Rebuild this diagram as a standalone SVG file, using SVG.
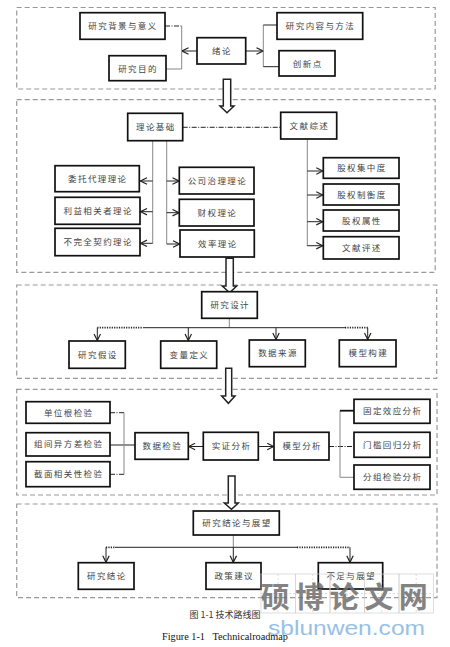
<svg xmlns="http://www.w3.org/2000/svg" width="450" height="647" viewBox="0 0 450 647">
<style>
.frame{fill:none;stroke:#9a9a9a;stroke-width:1.2;stroke-dasharray:5 3}
.box rect{fill:#fff;stroke:#111;stroke-width:1.7}
.box text{font-family:"Noto Sans CJK SC","Noto Sans",sans-serif;font-size:8.5px;fill:#444;letter-spacing:1.4px;text-anchor:middle}
.g{stroke:#888;stroke-width:1;fill:none}
.k{stroke:#222;stroke-width:1;fill:none}
.dd{stroke:#222;stroke-width:1;fill:none;stroke-dasharray:5 1.5 1 1.5}
.dot{stroke:#222;stroke-width:1.8;fill:none;stroke-dasharray:1.2 1.2}
.a{stroke:#222;stroke-width:1;fill:none;marker-end:url(#ah)}
.hollow{fill:#fff;stroke:#222;stroke-width:1.5}
.cap{font-family:"Noto Sans CJK SC",sans-serif;font-size:9px;fill:#333;text-anchor:middle}
</style>
<defs>
<marker id="ah" viewBox="0 0 8 8" refX="7.5" refY="4" markerWidth="8" markerHeight="8" orient="auto" markerUnits="userSpaceOnUse">
<path d="M1,0.8 L7.5,4 L1,7.2" fill="none" stroke="#222" stroke-width="1.2"/>
</marker>
</defs>
<rect width="450" height="647" fill="#fff"/>
<g id="frames">
<rect class="frame" x="16.7" y="7.5" width="418.5" height="81.5"/>
<rect class="frame" x="16.7" y="99.7" width="418.5" height="172.6"/>
<rect class="frame" x="16.7" y="285" width="420" height="93.3"/>
<rect class="frame" x="16.7" y="389.3" width="420.3" height="105.7"/>
<rect class="frame" x="16.7" y="504" width="420.3" height="93.7"/>
</g>
<g id="connectors">
<path class="dd" d="M165,26 H181.7"/>
<path class="g" d="M181.7,26 V69 H166"/>
<path class="a" d="M197,51 H182"/>
<path class="a" d="M245.7,51 H263"/>
<path class="g" d="M263.3,25 V66.7"/>
<path class="k" d="M263.3,25 H277 M263.3,66.7 H279"/>
<path class="dd" d="M182.7,127.3 H280.7"/>
<path class="g" d="M152.7,140.7 V243.3 M166.7,140.7 V244 M307.3,139 V246"/>
<path class="a" d="M152.7,181 H140.5"/>
<path class="a" d="M152.7,211.7 H140.5"/>
<path class="a" d="M152.7,243.3 H140.5"/>
<path class="a" d="M166.7,181 H179"/>
<path class="a" d="M166.7,212.7 H179"/>
<path class="a" d="M166.7,244 H179.5"/>
<path class="a" d="M307.3,171 H322.8"/>
<path class="a" d="M307.3,195 H322.8"/>
<path class="a" d="M307.3,221.7 H322.8"/>
<path class="a" d="M307.3,245.7 H322.8"/>
<path class="g" d="M229.3,318.3 V327.7"/>
<path class="k" d="M143,327.7 H345"/>
<path class="dot" d="M97.3,327.7 H143 M345,327.7 H368.3"/>
<path class="a" d="M97.3,327.7 V340.5"/>
<path class="a" d="M188.3,327.7 V340.5"/>
<path class="a" d="M276,327.7 V339.5"/>
<path class="a" d="M367.7,327.7 V339.5"/>
<path class="dd" d="M110,412.7 H124 M110,474.3 H124"/>
<path class="k" d="M110,445 H135"/>
<path class="g" d="M124,412.7 V474.3"/>
<path class="a" d="M203.3,446.5 H188.6"/>
<path class="a" d="M258.3,446.5 H273.7"/>
<path class="dd" d="M329,446.5 H354"/>
<path class="g" d="M340,410.7 V477.3 M340,477.3 H354"/>
<path stroke="#111" stroke-width="1.8" fill="none" d="M340,410.7 H354"/>
<path class="g" d="M233.3,535 V547.3"/>
<path class="k" d="M115,547.3 H297"/>
<path class="dot" d="M106,547.3 H115 M297,547.3 H350"/>
<path class="a" d="M106,547.3 V562.3"/>
<path class="a" d="M233.3,547.3 V562.3"/>
<path class="a" d="M350,547.3 V562.3"/>
<polygon class="hollow" points="223.3,79.3 230.7,79.3 230.7,106 234,106 227,112.7 220,106 223.3,106"/>
<polygon class="hollow" points="226,258.3 233.3,258.3 233.3,286 236.7,286 229.6,292.7 222.3,286 226,286"/>
<polygon class="hollow" points="225.7,368.3 231.7,368.3 231.7,396 235,396 228.4,403.3 221.7,396 225.7,396"/>
<polygon class="hollow" points="228.3,476 235,476 235,503 238.3,503 231.5,509.3 224.3,503 228.3,503"/>
</g>
<g id="n-bg" class="box"><rect x="80" y="12.7" width="85" height="26.6"/><text x="123" y="29">研究背景与意义</text></g>
<g id="n-md" class="box"><rect x="109" y="55.7" width="57" height="25"/><text x="138" y="71.5">研究目的</text></g>
<g id="n-xl" class="box"><rect x="197" y="37.7" width="48.7" height="26.3"/><text x="222" y="54">绪论</text></g>
<g id="n-nr" class="box"><rect x="277" y="12.7" width="85.7" height="26.6"/><text x="320.5" y="29">研究内容与方法</text></g>
<g id="n-cx" class="box"><rect x="279" y="50.7" width="56" height="25.3"/><text x="307.7" y="66.5">创新点</text></g>
<g id="n-lljc" class="box"><rect x="127.7" y="113.3" width="55" height="27.4"/><text x="155.8" y="130">理论基础</text></g>
<g id="n-wxzs" class="box"><rect x="280.7" y="112.3" width="56" height="26.7"/><text x="309.4" y="128.7">文献综述</text></g>
<g id="n-wt" class="box"><rect x="55" y="165.7" width="84.3" height="26"/><text x="97.8" y="181.7">委托代理理论</text></g>
<g id="n-ly" class="box"><rect x="55" y="197.3" width="85" height="27"/><text x="98.2" y="213.8">利益相关者理论</text></g>
<g id="n-bw" class="box"><rect x="55" y="228.3" width="85" height="27.4"/><text x="98.2" y="245">不完全契约理论</text></g>
<g id="n-gs" class="box"><rect x="179.3" y="167.3" width="74.7" height="26.7"/><text x="217.4" y="183.7">公司治理理论</text></g>
<g id="n-cq" class="box"><rect x="179.3" y="199.3" width="74.7" height="26.7"/><text x="217.4" y="215.7">财权理论</text></g>
<g id="n-xv" class="box"><rect x="180" y="230" width="74.3" height="27"/><text x="217.8" y="246.5">效率理论</text></g>
<g id="n-jz" class="box"><rect x="323.3" y="157.7" width="75.7" height="20.6"/><text x="361.9" y="171">股权集中度</text></g>
<g id="n-zh" class="box"><rect x="323.3" y="184" width="75.7" height="21"/><text x="361.9" y="197.5">股权制衡度</text></g>
<g id="n-sx" class="box"><rect x="323.3" y="210" width="75.7" height="21"/><text x="361.9" y="223.5">股权属性</text></g>
<g id="n-ps" class="box"><rect x="323.3" y="236.7" width="75.7" height="22.3"/><text x="361.9" y="250.8">文献评述</text></g>
<g id="n-sj" class="box"><rect x="201.7" y="291.7" width="55.6" height="26.6"/><text x="230.2" y="308">研究设计</text></g>
<g id="n-js" class="box"><rect x="69" y="341" width="56.3" height="27.3"/><text x="97.9" y="357.7">研究假设</text></g>
<g id="n-bl" class="box"><rect x="160.7" y="341" width="56" height="27.3"/><text x="189.4" y="357.7">变量定义</text></g>
<g id="n-ly2" class="box"><rect x="249.3" y="340" width="56" height="26.7"/><text x="278" y="356.3">数据来源</text></g>
<g id="n-mx" class="box"><rect x="339.3" y="340" width="56.7" height="26.7"/><text x="368.3" y="356.3">模型构建</text></g>
<g id="n-dw" class="box"><rect x="26" y="401.7" width="84" height="21.6"/><text x="68.7" y="415.5">单位根检验</text></g>
<g id="n-zj" class="box"><rect x="26" y="432.7" width="84" height="23.3"/><text x="68.7" y="447.3">组间异方差检验</text></g>
<g id="n-jm" class="box"><rect x="26" y="461.7" width="84" height="25"/><text x="68.7" y="477.2">截面相关性检验</text></g>
<g id="n-sjjy" class="box"><rect x="135" y="432.7" width="53.3" height="26.6"/><text x="162.3" y="449">数据检验</text></g>
<g id="n-sz" class="box"><rect x="203.3" y="432.3" width="55" height="27.7"/><text x="231.5" y="449.2">实证分析</text></g>
<g id="n-mxfx" class="box"><rect x="274" y="432.3" width="55" height="27.7"/><text x="302.2" y="449.2">模型分析</text></g>
<g id="n-gd" class="box"><rect x="354" y="399.3" width="76" height="24"/><text x="392.7" y="414.3">固定效应分析</text></g>
<g id="n-mk" class="box"><rect x="354" y="432.3" width="76" height="25"/><text x="392.7" y="447.8">门槛回归分析</text></g>
<g id="n-fz" class="box"><rect x="354" y="465" width="76" height="24.3"/><text x="392.7" y="480.2">分组检验分析</text></g>
<g id="n-jl" class="box"><rect x="193.3" y="511" width="86" height="24"/><text x="237" y="526">研究结论与展望</text></g>
<g id="n-yj" class="box"><rect x="78.3" y="562.7" width="55.7" height="26.6"/><text x="106.8" y="579">研究结论</text></g>
<g id="n-zc" class="box"><rect x="206" y="562.7" width="55" height="26.6"/><text x="234.2" y="579">政策建议</text></g>
<g id="n-bz" class="box"><rect x="318.3" y="562.7" width="64.4" height="26.3"/><text x="351.2" y="578.5">不足与展望</text></g>
<text class="cap" x="225" y="617.5" xml:space="preserve">图 1-1 技术路线图</text>
<text x="162" y="640" font-family="Liberation Serif,serif" font-size="9.5" fill="#111" textLength="126" lengthAdjust="spacingAndGlyphs" xml:space="preserve">Figure 1-1   Technicalroadmap</text>
<g id="watermark" opacity="0.85">
<g fill="none" stroke="#cfcfcf" stroke-width="0.8">
<rect x="261" y="574" width="34.5" height="39"/>
<rect x="295.5" y="574" width="34.5" height="39"/>
<rect x="330" y="574" width="34.5" height="39"/>
<rect x="364.5" y="574" width="34.5" height="39"/>
<rect x="399" y="574" width="34.5" height="39"/>
<path d="M278.2,574 V613 M312.7,574 V613 M347.2,574 V613 M381.7,574 V613 M416.2,574 V613 M261,593.5 H433.5" stroke-dasharray="2 2"/>
</g>
<text x="347" y="608" font-family="Noto Sans CJK SC,sans-serif" font-size="29" font-weight="bold" fill="#6e6e6e" text-anchor="middle" letter-spacing="5.5">硕博论文网</text>
<text x="268" y="634.5" font-family="Liberation Sans,sans-serif" font-size="20" fill="#86b6e2" textLength="157" lengthAdjust="spacingAndGlyphs">sblunwen.com</text>
</g>
</svg>
